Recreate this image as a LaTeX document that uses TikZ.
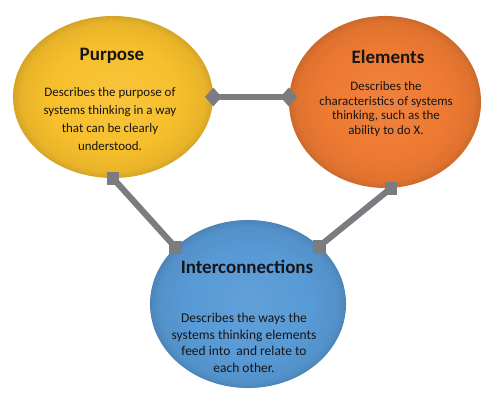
\documentclass[tikz,border=0pt]{standalone}
\usepackage{fontspec}
\setmainfont{Carlito}
\usetikzlibrary{positioning,shapes.geometric}
\usepackage{xcolor}
\definecolor{purpYellow}{RGB}{247,191,44}
\definecolor{elemOrange}{RGB}{238,122,50}
\definecolor{interBlue}{RGB}{88,154,214}
\definecolor{linkGray}{RGB}{122,124,128}
\definecolor{inkDark}{RGB}{22,22,22}

% soft darker rim for the circles
\pgfdeclareradialshading{purpShade}{\pgfpoint{0bp}{0bp}}{color(0bp)=(purpYellow!92!white); color(16bp)=(purpYellow); color(23bp)=(purpYellow!94!black); color(25bp)=(purpYellow!86!black); color(50bp)=(purpYellow!86!black)}
\pgfdeclareradialshading{elemShade}{\pgfpoint{0bp}{0bp}}{color(0bp)=(elemOrange!94!white); color(16bp)=(elemOrange); color(23bp)=(elemOrange!94!black); color(25bp)=(elemOrange!86!black); color(50bp)=(elemOrange!86!black)}
\pgfdeclareradialshading{interShade}{\pgfpoint{0bp}{0bp}}{color(0bp)=(interBlue!94!white); color(16bp)=(interBlue); color(23bp)=(interBlue!94!black); color(25bp)=(interBlue!86!black); color(50bp)=(interBlue!86!black)}

\begin{document}
\begin{tikzpicture}[
        x=0.025cm, y=-0.025cm,
        every node/.style={text=inkDark},
        blob/.style={ellipse, draw=none, inner sep=0pt},
        title/.style={font=\fontsize{13.5}{16}\selectfont\bfseries},
        body/.style={align=center, font=\fontsize{9.2}{12.8}\selectfont},
        link/.style={draw=linkGray, line width=4.4pt},
        dmark/.style={diamond, fill=linkGray, inner sep=0pt, minimum width=12pt, minimum height=13.5pt},
        smark/.style={rectangle, fill=linkGray, inner sep=0pt, minimum size=9.2pt}
    ]
        \useasboundingbox (0,0) rectangle (484,396);

        % Circles
        \node[blob, shading=purpShade, minimum width=5cm, minimum height=4.05cm] (purp) at (113,97) {};
        \node[blob, shading=elemShade, minimum width=4.8cm, minimum height=4.3cm] (elem) at (385,102) {};
        \node[blob, shading=interShade, minimum width=4.9cm, minimum height=4.2cm] (inter) at (248,304) {};

        % Texts
        \node[title] (purpT) at (112,56) {Purpose};
        \node[body] (purpB) at (110,119) {Describes the purpose of\\systems thinking in a way\\that can be clearly\\understood.};
        \node[title] (elemT) at (388,57) {Elements};
        \node[body, font=\fontsize{9.2}{10.6}\selectfont] (elemB) at (386,109) {Describes the\\characteristics of systems\\thinking, such as the\\ability to do X.};
        \node[title] (interT) at (247,267) {Interconnections};
        \node[body, font=\fontsize{9.6}{11.8}\selectfont] (interB) at (244,343) {Describes the ways the\\systems thinking elements\\feed into\ \ and relate to\\each other.};

        % Connector ends
        \node[dmark] (d1) at (purp.east) {};
        \node[dmark] (d2) at (elem.west |- purp.east) {};
        \node[smark] (s1) at (purp.south) {};
        \node[smark] (s2) at (inter.142) {};
        \node[smark] (s3) at (elem.-86) {};
        \node[smark] (s4) at (inter.39) {};

        % Connectors
        \draw[link] (d1.center) -- (d2.center);
        \draw[link] (s1.center) -- (s2.center);
        \draw[link] (s3.center) -- (s4.center);
    \end{tikzpicture}
\end{document}
